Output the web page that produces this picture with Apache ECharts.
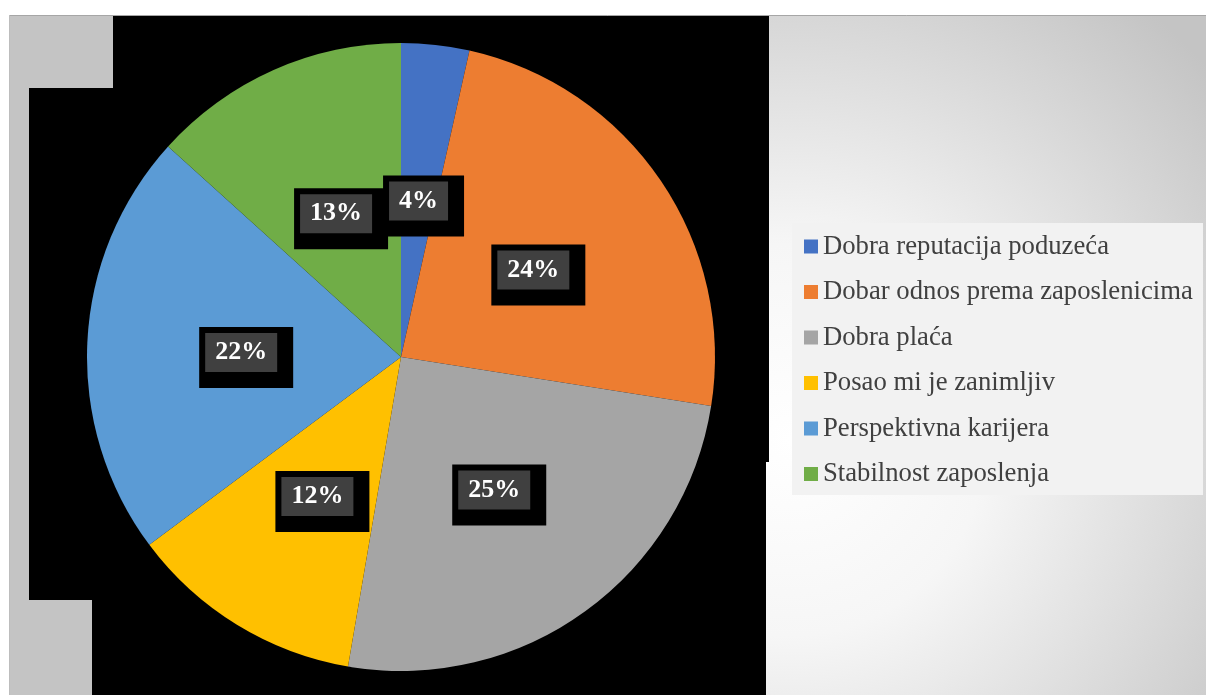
<!DOCTYPE html>
<html>
<head>
<meta charset="utf-8">
<script src="https://cdn.jsdelivr.net/npm/echarts@6/dist/echarts.min.js"></script>
<style>
html,body{margin:0;padding:0;background:#fff;}
#chart{width:1206px;height:695px;}
</style>
</head>
<body>
<div id="chart"></div>
<script>
var categories = ['Dobra reputacija poduzeća', 'Dobar odnos prema zaposlenicima', 'Dobra plaća', 'Posao mi je zanimljiv', 'Perspektivna karijera', 'Stabilnost zaposlenja'];
var values = [3.5, 24.0, 25.2, 12.1, 21.9, 13.3];
var colors = ['#4472c4', '#ed7d31', '#a5a5a5', '#ffc000', '#5b9bd5', '#70ad47'];

var chart = echarts.init(document.getElementById('chart'), null, {renderer: 'canvas'});
function makeData(transparent) {
  return categories.map(function (c, i) {
    return {name: c, value: values[i], itemStyle: {color: transparent ? 'rgba(0,0,0,0)' : colors[i]}};
  });
}
var labelFont = {fontFamily: 'Liberation Serif', fontWeight: 'bold', fontSize: 26, lineHeight: 26};
var fmt = function (p) { return Math.round(p.percent) + '%'; };
var basePie = {
  type: 'pie',
  center: [401, 357],
  radius: 314,
  startAngle: 90,
  clockwise: true,
  avoidLabelOverlap: false,
  labelLayout: {hideOverlap: false},
  labelLine: {show: false},
  emphasis: {disabled: true},
  silent: true
};
chart.setOption({
  animation: false,
  graphic: [
    {type: 'rect', z: -10, shape: {x: 9, y: 15, width: 1197, height: 680},
     style: {fill: {type: 'radial', x: 790, y: 440, r: 560, global: true,
       colorStops: [{offset: 0, color: '#ffffff'}, {offset: 0.35, color: '#f6f6f6'}, {offset: 1, color: '#c4c4c4'}]}}},
    {type: 'line', z: -9, shape: {x1: 9, y1: 15.5, x2: 1206, y2: 15.5}, style: {stroke: '#a6a6a6', lineWidth: 1}},
    {type: 'line', z: -9, shape: {x1: 9.5, y1: 15, x2: 9.5, y2: 695}, style: {stroke: '#bdbdbd', lineWidth: 1}},
    {type: 'polygon', z: -8, shape: {points: [[113, 16], [769, 16], [769, 462], [766, 462], [766, 695], [92, 695], [92, 600], [29, 600], [29, 88], [113, 88]]},
     style: {fill: '#000000'}},
    {type: 'rect', z: -7, shape: {x: 792, y: 223, width: 411, height: 272}, style: {fill: '#f2f2f2'}}
  ],
  legend: {
    orient: 'vertical',
    left: 804,
    top: 233,
    padding: 0,
    itemWidth: 14,
    itemHeight: 14,
    itemGap: 18.5,
    icon: 'rect',
    data: categories,
    textStyle: {fontFamily: 'Liberation Serif', fontSize: 26.7, color: '#404040', lineHeight: 27}
  },
  series: [
    Object.assign({}, basePie, {
      name: 'slices', z: 1, data: makeData(false),
      itemStyle: {borderWidth: 0},
      label: {show: false}
    }),
    Object.assign({}, basePie, {
      name: 'labelBoxes', z: 2, data: makeData(true),
      itemStyle: {borderWidth: 0},
      label: Object.assign({
        show: true, position: 'inside', formatter: fmt,
        color: 'rgba(0,0,0,0)', backgroundColor: '#000000',
        padding: [18, 21, 17, 21],
        offset: [5, 8]
      }, labelFont)
    }),
    Object.assign({}, basePie, {
      name: 'labels', z: 3, data: makeData(true),
      itemStyle: {borderWidth: 0},
      label: Object.assign({
        show: true, position: 'inside', formatter: fmt,
        color: '#ffffff', backgroundColor: '#404040',
        padding: [7, 10, 6, 10],
        offset: [0, 3]
      }, labelFont)
    })
  ]
});
</script>
</body>
</html>
